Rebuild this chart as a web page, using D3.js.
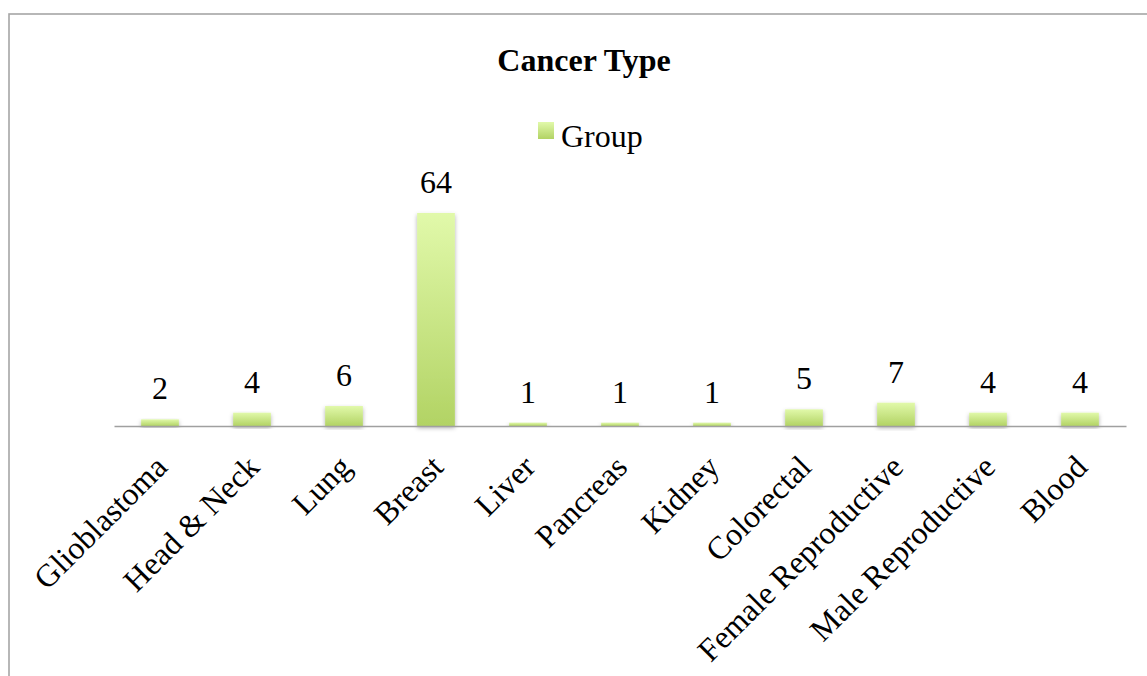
<!DOCTYPE html>
<html>
<head>
<meta charset="utf-8">
<script src="https://cdn.jsdelivr.net/npm/d3@7"></script>
<style>
  html, body { margin: 0; padding: 0; background: #fff; }
  svg { display: block; }
</style>
</head>
<body>
<svg id="chart" width="1147" height="676"></svg>
<script>
// Cancer types and their counts
const categories = ["Glioblastoma", "Head & Neck", "Lung", "Breast", "Liver", "Pancreas",
  "Kidney", "Colorectal", "Female Reproductive", "Male Reproductive", "Blood"];
const values = [2, 4, 6, 64, 1, 1, 1, 5, 7, 4, 4];
const seriesName = "Group";
const chartTitle = "Cancer Type";

const W = 1147, H = 676;
const svg = d3.select("#chart");
const font = "'Liberation Serif', 'Times New Roman', serif";

// frame around the chart area
svg.append("rect")
  .attr("x", 9).attr("y", 14)
  .attr("width", W + 20).attr("height", H + 20)
  .attr("fill", "none").attr("stroke", "#a6a6a6").attr("stroke-width", 1.6);

const defs = svg.append("defs");
const grad = defs.append("linearGradient")
  .attr("id", "barGrad").attr("x1", 0).attr("y1", 0).attr("x2", 0).attr("y2", 1);
grad.append("stop").attr("offset", "0%").attr("stop-color", "#e1f9aa");
grad.append("stop").attr("offset", "100%").attr("stop-color", "#b2d364");

const shadow = defs.append("filter").attr("id", "shadow")
  .attr("x", "-30%").attr("y", "-10%").attr("width", "160%").attr("height", "130%");
shadow.append("feDropShadow")
  .attr("dx", 0).attr("dy", 2).attr("stdDeviation", 2)
  .attr("flood-color", "#000").attr("flood-opacity", 0.3);

const x = d3.scaleBand()
  .domain(categories)
  .range([114, 1126])
  .paddingInner(0.59)
  .paddingOuter(0.295);

const y = d3.scaleLinear()
  .domain([0, 70])
  .range([426, 193]);

// bars
svg.append("g").selectAll("rect")
  .data(categories)
  .join("rect")
  .attr("x", d => x(d))
  .attr("width", x.bandwidth())
  .attr("y", (d, i) => y(values[i]))
  .attr("height", (d, i) => y(0) - y(values[i]))
  .attr("fill", "url(#barGrad)")
  .attr("filter", "url(#shadow)");

// category axis
const xAxis = svg.append("g")
  .attr("transform", `translate(0,${y(0)})`)
  .call(d3.axisBottom(x).tickSize(0).tickSizeOuter(0));
xAxis.select(".domain").attr("stroke", "#a0a0a0").attr("stroke-width", 1.6);
xAxis.selectAll(".tick text")
  .attr("font-family", font)
  .attr("font-size", 32)
  .attr("fill", "#000")
  .attr("text-anchor", "end")
  .attr("x", 0).attr("y", 0).attr("dy", 0)
  .attr("transform", "translate(9,43) rotate(-45)");

// value labels
svg.append("g").selectAll("text")
  .data(categories)
  .join("text")
  .attr("x", d => x(d) + x.bandwidth() / 2)
  .attr("y", (d, i) => y(values[i]) - 20)
  .attr("text-anchor", "middle")
  .attr("font-family", font)
  .attr("font-size", 32)
  .attr("fill", "#000")
  .text((d, i) => values[i]);

// title
svg.append("text")
  .attr("x", 584).attr("y", 71)
  .attr("text-anchor", "middle")
  .attr("font-family", font)
  .attr("font-size", 32)
  .attr("font-weight", "bold")
  .text(chartTitle);

// legend
const legend = svg.append("g").attr("transform", "translate(538,122)");
legend.append("rect")
  .attr("width", 16).attr("height", 17)
  .attr("fill", "url(#barGrad)");
legend.append("text")
  .attr("x", 23).attr("y", 25)
  .attr("font-family", font)
  .attr("font-size", 32)
  .text(seriesName);
</script>
</body>
</html>
